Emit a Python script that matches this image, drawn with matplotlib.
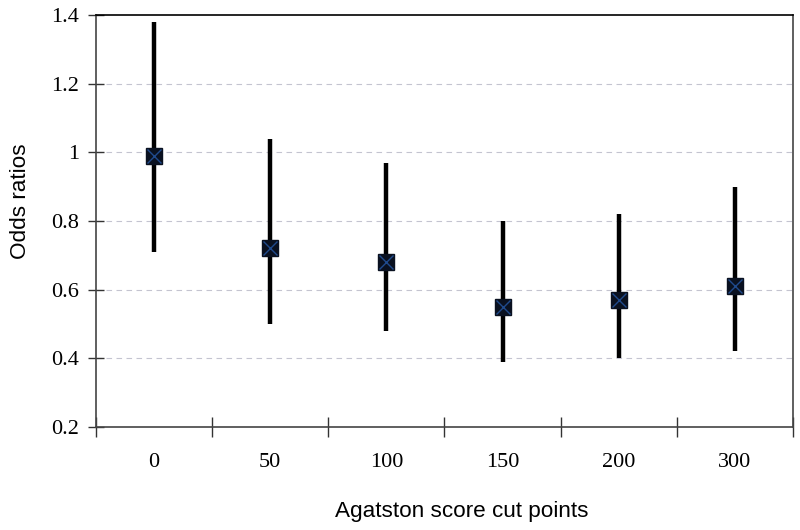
import matplotlib
matplotlib.use("Agg")
import matplotlib.pyplot as plt
import numpy as np

categories = ["0", "50", "100", "150", "200", "300"]
odds = [0.99, 0.72, 0.68, 0.55, 0.57, 0.61]
lower = [0.71, 0.50, 0.48, 0.39, 0.40, 0.42]
upper = [1.38, 1.04, 0.97, 0.80, 0.82, 0.90]
yticks = [0.2, 0.4, 0.6, 0.8, 1.0, 1.2, 1.4]
ytick_labels = ["0.2", "0.4", "0.6", "0.8", "1", "1.2", "1.4"]

fig = plt.figure(figsize=(8, 5.3), dpi=100)
ax = fig.add_axes([96/800, 1-427/530, 697/800, 412/530])

x = np.arange(len(categories))
ax.vlines(x, lower, upper, color="black", lw=3.2, zorder=3)
ax.plot(x, odds, ls="none", marker="s", ms=12, mfc="#0a1120", mec="#0a1120", zorder=4)
ax.plot(x, odds, ls="none", marker="x", ms=10.5, mew=1.0, color="#1f4a8c", zorder=5)

ax.set_xlim(-0.5, len(categories) - 0.5)
ax.set_ylim(0.2, 1.4)
ax.set_yticks(yticks)
ax.set_yticklabels(ytick_labels)
for y in yticks[1:-1]:
    ax.axhline(y, color="#c4c4d0", lw=0.8, ls=(0, (5, 4)), zorder=1)

ax.set_xticks(x)
ax.set_xticklabels(categories)
ax.set_xticks(np.arange(-0.5, len(categories)), minor=True)
ax.tick_params(axis="x", which="major", length=0, pad=19)
ax.tick_params(axis="x", which="minor", direction="inout", length=14, width=1, color="#333333")
ax.tick_params(axis="y", direction="inout", length=12, width=1, color="#333333", pad=6)

for lab in ax.get_xticklabels() + ax.get_yticklabels():
    lab.set_fontfamily("Liberation Serif")
    lab.set_fontsize(16)

for s in ["left", "bottom", "right"]:
    ax.spines[s].set_color("#444444")
    ax.spines[s].set_linewidth(1.2)
ax.spines["top"].set_color("black")
ax.spines["top"].set_linewidth(1.2)

fig.text(462/800, 1-512/530, "Agatston score cut points", family="Liberation Sans",
         fontsize=16.2, ha="center", va="center")
fig.text(21/800, 1-201/530, "Odds ratios", family="Liberation Sans",
         fontsize=16.2, ha="center", va="center", rotation=90)

fig.savefig("out.png", dpi=100)
